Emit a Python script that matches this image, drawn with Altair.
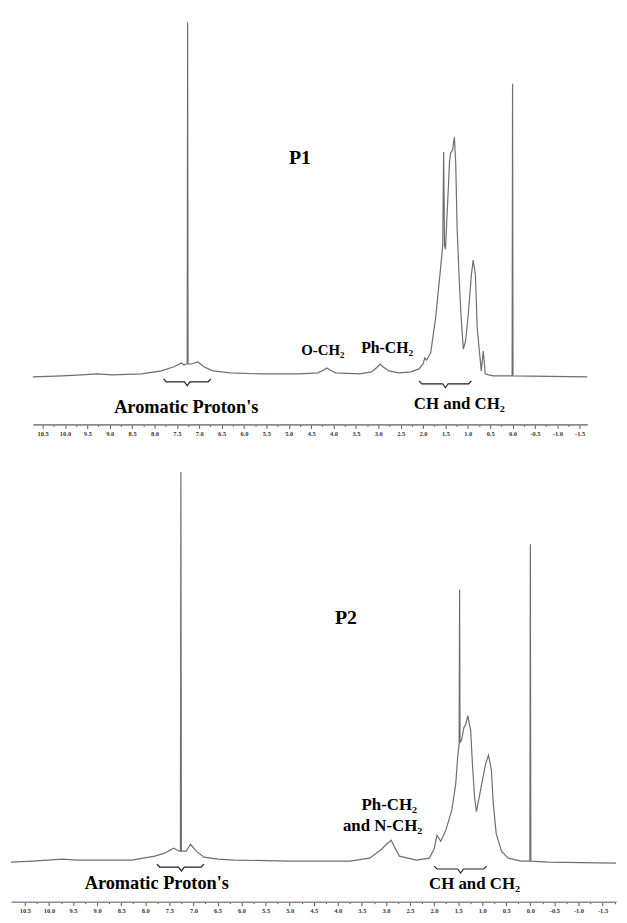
import altair as alt
import pandas as pd

# ---------------- P1 spectrum (ppm, intensity) ----------------
p1_ppm = [10.72, 10.06, 9.62, 9.28, 8.95, 8.29, 7.85, 7.58, 7.40, 7.34, 7.29, 7.27, 7.26, 7.25,
          7.18, 7.03, 6.89, 6.69, 6.30, 5.63, 4.75, 4.35, 4.22, 4.15, 4.08, 3.95, 3.42, 3.15,
          3.02, 2.96, 2.89, 2.76, 2.54, 2.27, 2.09, 2.00, 1.96, 1.92, 1.83, 1.72, 1.61, 1.56,
          1.54, 1.52, 1.50, 1.45, 1.41, 1.385, 1.34, 1.30, 1.27, 1.24, 1.19, 1.15, 1.10, 1.05,
          0.99, 0.92, 0.88, 0.83, 0.79, 0.72, 0.70, 0.655, 0.61, 0.54, 0.43, 0.10, 0.01, 0.00,
          -0.01, -1.67]
p1_int = [-1, 0, 1, 2, 1, 2, 5, 9, 13, 11, 12, 12, 357, 12,
          12, 14, 9, 5, 3, 2, 2, 3, 6, 8, 6, 3, 2, 4,
          9, 12, 9, 5, 3, 4, 7, 12, 18, 16, 23, 58, 108, 132,
          226, 132, 128, 175, 215, 225, 228, 241, 215, 150, 95, 60, 27, 35,
          62, 102, 117, 102, 48, 15, 5, 25, 2, 1, 0, 0, 0, 295,
          0, -1]

# ---------------- P2 spectrum ----------------
p2_ppm = [10.79, 10.34, 9.72, 9.41, 8.90, 8.28, 7.80, 7.60, 7.41, 7.29, 7.27, 7.26, 7.25, 7.15,
          7.06, 6.94, 6.78, 6.49, 6.16, 5.00, 3.75, 3.34, 3.09, 2.99, 2.89, 2.83, 2.72, 2.37,
          2.10, 2.00, 1.94, 1.86, 1.75, 1.63, 1.55, 1.51, 1.48, 1.47, 1.46, 1.43, 1.38, 1.34,
          1.30, 1.24, 1.20, 1.16, 1.12, 1.06, 1.01, 0.93, 0.87, 0.81, 0.77, 0.71, 0.60, 0.46,
          0.19, 0.01, 0.00, -0.01, -0.36, -1.78]
p2_int = [-1, 0, 2, 1, 1, 1, 5, 8, 13, 10, 10, 393, 10, 10,
          17, 10, 4, 2, 1, 0, 0, 3, 12, 17, 21, 15, 5, 1,
          3, 12, 26, 20, 32, 52, 78, 105, 118, 274, 120, 122, 135, 138,
          147, 132, 95, 65, 50, 65, 78, 98, 107, 92, 58, 28, 10, 3,
          0, 0, 320, 0, -1, -2]

# ---------------- annotations ----------------
p1_text = ["P1", "O-CH\u2082", "Ph-CH\u2082", "Aromatic Proton's", "CH and CH\u2082"]
p1_text_ppm = [4.75, 4.24, 2.80, 7.29, 1.19]
p1_text_int = [220, 26, 28, -32, -28]
p1_text_size = [20, 15, 16, 18.5, 17]

p2_text = ["P2", "Ph-CH\u2082", "and N-CH\u2082", "Aromatic Proton's", "CH and CH\u2082"]
p2_text_ppm = [3.83, 2.93, 3.07, 7.76, 1.16]
p2_text_int = [245, 57, 35, -22, -23]
p2_text_size = [20, 17, 17, 18.5, 17]

# braces: (start ppm, end ppm, centre ppm, hook, line, tip)
p1_braces = [(7.80, 6.74, 7.27, -3, -6, -10), (2.09, 0.92, 1.50, -5, -8, -12)]
p2_braces = [(7.76, 6.78, 7.25, -3, -6, -10), (2.00, 0.91, 1.45, -5, -8, -12)]

# axis ticks
major_ticks = [10.5, 10.0, 9.5, 9.0, 8.5, 8.0, 7.5, 7.0, 6.5, 6.0, 5.5, 5.0, 4.5, 4.0, 3.5,
               3.0, 2.5, 2.0, 1.5, 1.0, 0.5, 0.0, -0.5, -1.0, -1.5]
minor_ticks = [10.25, 9.75, 9.25, 8.75, 8.25, 7.75, 7.25, 6.75, 6.25, 5.75, 5.25, 4.75, 4.25,
               3.75, 3.25, 2.75, 2.25, 1.75, 1.25, 0.75, 0.25, -0.25, -0.75, -1.25]
p2_extra_minor = [-1.75]

FONT = "Liberation Serif"
LINE = "#6e6e6e"


def brace_frame(braces):
    rows = []
    d = 0.06
    for k, (a, b, c, hook, line, tip) in enumerate(braces):
        pts = [(a, hook), (a - d, line), (c + d, line), (c, tip), (c - d, line), (b + d, line), (b, hook)]
        for j, (p, v) in enumerate(pts):
            rows.append({"ppm": p, "intensity": v, "b": k, "j": j})
    return pd.DataFrame(rows)


def panel(ppm, inten, texts, tppm, tint, tsize, braces, xdom, xrange, ydom, ticks, w, h):
    spec = pd.DataFrame({"ppm": ppm, "intensity": inten, "i": list(range(len(ppm)))})
    lab = pd.DataFrame({"ppm": tppm, "intensity": tint, "label": texts, "size": tsize})
    br = brace_frame(braces)

    major_test = "abs(datum.value*2 - round(datum.value*2)) < 0.001"
    axis = alt.Axis(
        values=ticks,
        title=None,
        grid=False,
        domainColor="#8a8a8a",
        domainWidth=1.6,
        tickColor="#555555",
        tickWidth=1,
        tickSize={"condition": {"test": major_test, "value": 4}, "value": 2},
        labelExpr=major_test + " ? replace(format(datum.value, '.1f'), '\u2212', '-') : ''",
        labelFont=FONT,
        labelFontWeight="bold",
        labelFontSize=6.5,
        labelColor="#333333",
        labelPadding=2,
        labelOverlap=False,
        labelFlush=False,
    )
    if xrange is not None:
        xs = alt.Scale(domain=xdom, range=xrange, nice=False, zero=False)
    else:
        xs = alt.Scale(domain=xdom, nice=False, zero=False)
    x = alt.X("ppm:Q", scale=xs, axis=axis)
    y = alt.Y("intensity:Q", scale=alt.Scale(domain=ydom, nice=False, zero=False), axis=None)

    line = alt.Chart(spec).mark_line(color=LINE, strokeWidth=1.2).encode(
        x=x, y=y, order="i:Q")
    brace = alt.Chart(br).mark_line(color="#222222", strokeWidth=1.2).encode(
        x=x, y=y, detail="b:N", order="j:Q")
    text = alt.Chart(lab).mark_text(font=FONT, fontWeight="bold", color="black",
                                     align="center", baseline="middle").encode(
        x=x, y=y, text="label:N", size=alt.Size("size:Q", scale=None, legend=None))
    return alt.layer(line, brace, text).properties(width=w, height=h)


top = panel(p1_ppm, p1_int, p1_text, p1_text_ppm, p1_text_int, p1_text_size, p1_braces,
            [10.72, -1.67], [22, 582], [-49, 367], major_ticks + minor_ticks, 611, 416)
bottom = panel(p2_ppm, p2_int, p2_text, p2_text_ppm, p2_text_int, p2_text_size, p2_braces,
               [10.79, -1.78], None, [-41, 417], major_ticks + minor_ticks + p2_extra_minor, 611, 458)

chart = alt.vconcat(top, bottom, spacing=24, bounds="flush").properties(
    padding=0
).configure_view(stroke=None)

chart.save("out.html", embed_options={"renderer": "svg", "actions": False})
